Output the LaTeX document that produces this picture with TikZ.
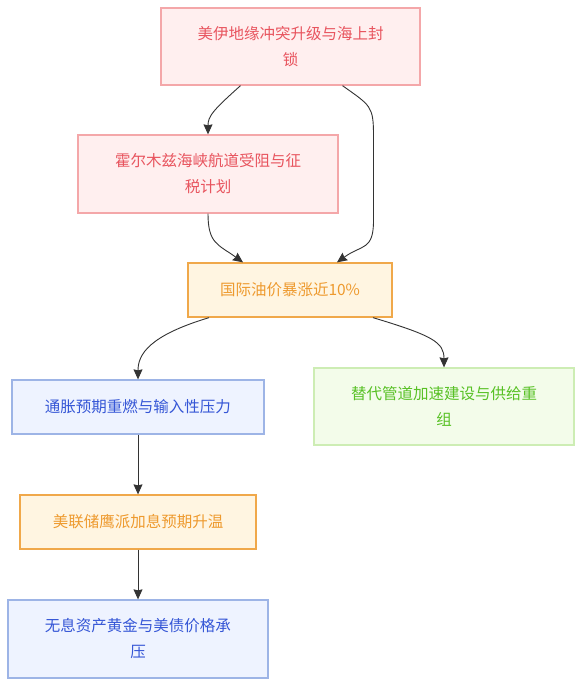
\documentclass[tikz,border=0pt]{standalone}
\usepackage{fontspec}
\newfontfamily\cjk{Noto Sans CJK SC}
\usetikzlibrary{arrows.meta,calc}
\definecolor{redfill}{HTML}{FFEFEF}
\definecolor{redline}{HTML}{F4A7A9}
\definecolor{redtext}{HTML}{E8545E}
\definecolor{orfill}{HTML}{FFF5E1}
\definecolor{orline}{HTML}{F0A84A}
\definecolor{ortext}{HTML}{EE9A2E}
\definecolor{blfill}{HTML}{EEF3FF}
\definecolor{blline}{HTML}{9DB4E6}
\definecolor{bltext}{HTML}{3556D6}
\definecolor{grfill}{HTML}{F3FCEA}
\definecolor{grline}{HTML}{CDEDB4}
\definecolor{grtext}{HTML}{58C125}
\definecolor{edge}{HTML}{333333}
\tikzset{
  box/.style={rectangle, draw, line width=1.3pt, inner sep=0pt, align=center,
    font=\cjk\fontsize{15.5}{26}\selectfont},
  redbox/.style={box, fill=redfill, draw=redline, text=redtext},
  orbox/.style={box, fill=orfill, draw=orline, text=ortext},
  blbox/.style={box, fill=blfill, draw=blline, text=bltext},
  grbox/.style={box, fill=grfill, draw=grline, text=grtext},
  conn/.style={draw=edge, line width=0.9pt, -{Stealth[length=10pt,width=9pt,inset=1pt]}}
}
\begin{document}
\begin{tikzpicture}[x=1pt,y=-1pt]
\useasboundingbox (0,0) rectangle (582,686);
\fill[white] (0,0) rectangle (582,686);
\node[redbox, minimum width=259pt, minimum height=77pt] (A) at (290.5,46.5) {美伊地缘冲突升级与海上封\\锁};
\node[redbox, minimum width=260pt, minimum height=78pt] (B) at (208,174) {霍尔木兹海峡航道受阻与征\\税计划};
\node[orbox, minimum width=204pt, minimum height=54pt] (C) at (290,290) {国际油价暴涨近10\%};
\node[blbox, minimum width=252pt, minimum height=54pt] (D) at (138,407) {通胀预期重燃与输入性压力};
\node[grbox, minimum width=260pt, minimum height=77pt] (E) at (444,406.5) {替代管道加速建设与供给重\\组};
\node[orbox, minimum width=236pt, minimum height=54pt] (F) at (138,522) {美联储鹰派加息预期升温};
\node[blbox, minimum width=260pt, minimum height=78pt] (G) at (138,639) {无息资产黄金与美债价格承\\压};
\draw[conn] ([xshift=-50pt]A.south) .. controls ++(-28,25) and ++(0,-18) .. (B.north);
\draw[conn] ([xshift=52pt]A.south) .. controls ++(28,20) and ++(0,-30) .. ++(31,50) -- ++(0,85) .. controls ++(0,30) and ++(25,-18) .. ([xshift=47pt]C.north);
\draw[conn] (B.south) .. controls ++(0,30) and ++(-25,-18) .. ([xshift=-47pt]C.north);
\draw[conn] ([xshift=-81pt]C.south) .. controls ++(-60,18) and ++(0,-25) .. (D.north);
\draw[conn] ([xshift=83pt]C.south) .. controls ++(60,18) and ++(0,-25) .. (E.north);
\draw[conn] (D.south) -- (F.north);
\draw[conn] (F.south) -- (G.north);
\end{tikzpicture}
\end{document}
